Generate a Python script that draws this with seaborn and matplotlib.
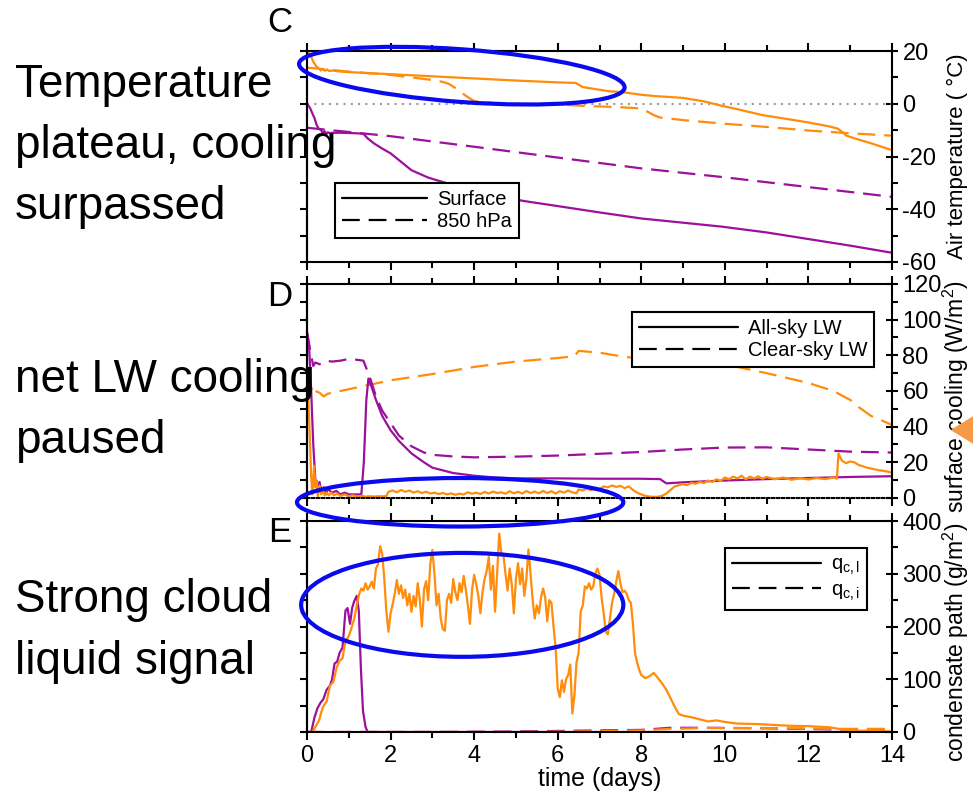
import numpy as np
import pandas as pd
import matplotlib
matplotlib.use("Agg")
import matplotlib.pyplot as plt
from matplotlib.patches import Ellipse, Polygon
from matplotlib.lines import Line2D
from matplotlib.ticker import MultipleLocator
from matplotlib.transforms import IdentityTransform
import seaborn as sns

# ---------------------------------------------------------------- data
# (day, value) samples for each run: orange = warm run, purple = cold run

# Panel C: air temperature (deg C)
T_SFC_ORANGE = np.array([
    (0, 20), (0.08, 18.5), (0.15, 16), (0.22, 14.2), (0.29, 13.3), (0.33, 12.6),
    (0.38, 13.2), (0.43, 12.5), (0.48, 13.0), (0.53, 12.4), (0.6, 12.6), (0.8, 12.2),
    (1.0, 12.0), (1.5, 11.6), (2.0, 11.2), (3.0, 10.4), (4.0, 9.6), (5.0, 8.8),
    (6.0, 8.1), (6.43, 7.9), (6.6, 6.3), (6.8, 5.8), (7.2, 4.8), (7.6, 4.3),
    (8.0, 3.4), (8.4, 2.8), (8.65, 2.6), (9.0, 2.2), (9.5, 0.9), (9.93, -0.8),
    (10.2, -1.7), (10.9, -4.3), (11.5, -5.8), (12.04, -7.2), (12.5, -8.6),
    (12.7, -9.4), (12.8, -10.6), (12.9, -12.0), (13.1, -13.1), (13.5, -15.0),
    (14.0, -17.6)])
T_850_ORANGE = np.array([
    (0, 13.7), (1, 12.2), (2, 10.9), (2.5, 10.0), (3.0, 9.0), (3.25, 8.3),
    (3.4, 7.5), (3.57, 5.8), (3.7, 4.2), (3.83, 2.7), (4.0, 1.0), (4.5, 0.2),
    (5.0, -0.1), (6.0, -0.3), (6.75, -0.9), (7.5, -1.3), (8.0, -1.8), (8.15, -3.0),
    (8.3, -4.3), (8.44, -5.2), (9.0, -6.2), (9.93, -7.5), (11.0, -8.8),
    (12.04, -10.2), (13.0, -11.2), (14.0, -12.1)])
T_SFC_PURPLE = np.array([
    (0, 0), (0.07, -1.5), (0.13, -3.7), (0.18, -5.5), (0.23, -8.0), (0.28, -9.5),
    (0.34, -10.0), (0.38, -11.3), (0.42, -10.4), (0.46, -11.5), (0.5, -10.8),
    (0.55, -11.2), (0.6, -11.0), (0.8, -11.0), (1.0, -11.1), (1.2, -11.2),
    (1.35, -11.4), (1.45, -13.1), (1.6, -15.0), (1.8, -17.0), (2.0, -18.8),
    (2.25, -22.0), (2.5, -25.2), (2.9, -28.0), (3.36, -30.2), (4.0, -33.0),
    (4.6, -35.2), (5.2, -36.9), (6.0, -38.8), (7.0, -41.2), (8.0, -43.5),
    (9.0, -45.1), (9.93, -46.6), (11.0, -48.8), (12.04, -51.4), (13.0, -53.8),
    (14.0, -56.5)])
T_850_PURPLE = np.array([
    (0, -9.1), (1, -10.7), (2, -12.3), (4, -16.3), (6, -20.4), (8, -24.5),
    (10, -27.9), (12, -31.6), (14, -35.3)])

# Panel D: surface longwave cooling (W/m2)
LW_ALL_ORANGE = np.array([
    (0, 70), (0.05, 45), (0.1, 12), (0.13, 2), (0.17, 18), (0.2, 6), (0.23, 10),
    (0.26, 1), (0.3, 7), (0.34, 2), (0.38, 5), (0.42, 1.5), (0.47, 3), (0.52, 1.5),
    (0.58, 3), (0.65, 1.5), (0.72, 2.5), (0.8, 1.2), (0.9, 2), (1.0, 1), (1.1, 1.5),
    (1.2, 0.8), (1.3, 1.2), (1.4, 0.8), (1.5, 1), (1.6, 0.8), (1.7, 1), (1.8, 0.9),
    (1.9, 1.2), (1.95, 3.5), (2.05, 4.2), (2.15, 3.2), (2.25, 4.5), (2.35, 3.5),
    (2.45, 4.2), (2.55, 3), (2.65, 3.8), (2.75, 2.8), (2.85, 3.5), (2.95, 2.5),
    (3.05, 3), (3.15, 2.2), (3.25, 2.8), (3.35, 2), (3.45, 2.6), (3.55, 1.8),
    (3.65, 2.4), (3.75, 2), (3.85, 3.2), (3.95, 2.4), (4.05, 3), (4.15, 2.2),
    (4.25, 3.4), (4.35, 2.5), (4.45, 3.6), (4.55, 2.8), (4.65, 3.2), (4.75, 2.4),
    (4.85, 3.8), (4.95, 2.6), (5.05, 3.5), (5.15, 2.5), (5.25, 3.9), (5.35, 2.8),
    (5.45, 3.6), (5.55, 2.6), (5.65, 4), (5.75, 2.8), (5.85, 3.8), (5.95, 2.5),
    (6.05, 3.8), (6.15, 3), (6.25, 4.2), (6.35, 3.2), (6.45, 2.6), (6.5, 4.8),
    (6.6, 4.2), (6.7, 5.2), (6.8, 4.4), (6.9, 5.8), (7.0, 5), (7.1, 6.5), (7.2, 6),
    (7.3, 7), (7.4, 6.2), (7.5, 6.8), (7.6, 5.5), (7.7, 6.5), (7.8, 4.5), (7.9, 3),
    (8.0, 2), (8.1, 1.2), (8.2, 0.8), (8.3, 0.6), (8.4, 0.7), (8.5, 1.2), (8.6, 2.5),
    (8.7, 4.5), (8.8, 6.5), (8.9, 7.2), (9.0, 7.8), (9.1, 7.2), (9.2, 8.5), (9.3, 8),
    (9.4, 9), (9.5, 8.4), (9.6, 9.8), (9.7, 9), (9.8, 10.5), (9.9, 9.5), (10.0, 11.5),
    (10.1, 10.5), (10.2, 12), (10.3, 11), (10.4, 12.5), (10.5, 10.5), (10.6, 12),
    (10.7, 11), (10.8, 12.2), (10.9, 10.8), (11.0, 11.8), (11.2, 10.5), (11.4, 11.5),
    (11.6, 10.2), (11.8, 11.2), (12.0, 10.4), (12.2, 11.2), (12.4, 10.6), (12.6, 11.5),
    (12.68, 10.8), (12.72, 25), (12.8, 21), (12.9, 19.5), (13.0, 20.5), (13.1, 20),
    (13.2, 18.5), (13.3, 17.8), (13.4, 17), (13.5, 16.5), (13.6, 16), (13.7, 15.5),
    (13.8, 15.2), (13.9, 14.8), (14.0, 14.2)])
LW_CLEAR_ORANGE = np.array([
    (0, 70), (0.1, 62), (0.15, 58), (0.2, 60), (0.3, 59), (0.4, 57), (0.5, 58.5),
    (0.7, 59.5), (1.0, 61), (1.5, 63.5), (2.0, 66), (3.0, 69.5), (4.0, 73.5),
    (5.0, 76.5), (6.0, 78.5), (6.4, 79.5), (6.5, 82.5), (7.0, 81.5), (7.5, 79.5),
    (8.0, 78), (9.0, 77.8), (9.5, 77), (10.0, 75), (11.0, 70), (12.0, 64.5),
    (12.6, 60), (13.0, 55), (13.2, 51), (13.5, 46), (14.0, 41)])
LW_ALL_PURPLE = np.array([
    (0, 93), (0.05, 85), (0.1, 60), (0.15, 30), (0.2, 10), (0.25, 4), (0.3, 9),
    (0.35, 3), (0.4, 6), (0.45, 2), (0.5, 5), (0.6, 3), (0.7, 4), (0.8, 2), (0.9, 3),
    (1.0, 2), (1.1, 2), (1.2, 2), (1.3, 2), (1.36, 20), (1.42, 55), (1.47, 67),
    (1.55, 62), (1.65, 55), (1.8, 46), (2.0, 38), (2.2, 32), (2.5, 25), (2.8, 20),
    (3.0, 17), (3.5, 14), (4.0, 12.5), (4.5, 11.5), (5.0, 11), (6.0, 11), (7.0, 10.8),
    (8.0, 10.8), (8.45, 10.6), (8.6, 8.2), (9.0, 8.8), (10.0, 9.8), (11.0, 10.6),
    (12.0, 11.2), (13.0, 11.8), (14.0, 12.2)])
LW_CLEAR_PURPLE = np.array([
    (0, 93), (0.1, 80), (0.15, 74), (0.2, 76), (0.3, 75), (0.45, 77), (0.6, 76.5),
    (0.8, 77), (1.0, 78), (1.2, 77.5), (1.35, 77), (1.5, 68), (1.65, 57), (1.8, 49),
    (2.0, 42), (2.2, 35), (2.5, 29), (2.8, 25.5), (3.0, 24.2), (3.5, 23.3),
    (4.0, 22.8), (5.0, 23.2), (6.0, 23.8), (7.0, 24.8), (8.0, 25.8), (9.0, 27.2),
    (10.0, 28.3), (11.0, 28.4), (12.0, 27.2), (13.0, 26.0), (14.0, 25.5)])

# Panel E: condensate path (g/m2)
QL_ORANGE = np.array([
    (0, 0), (0.13, 0), (0.2, 10), (0.29, 22), (0.35, 40), (0.4, 50), (0.47, 58),
    (0.55, 88), (0.63, 95), (0.71, 122), (0.78, 135), (0.85, 140), (0.92, 172),
    (1.0, 182), (1.06, 196), (1.13, 215), (1.19, 240), (1.25, 262), (1.3, 272),
    (1.35, 268), (1.4, 282), (1.45, 270), (1.5, 276), (1.55, 285), (1.6, 272),
    (1.65, 310), (1.7, 318), (1.75, 352), (1.8, 338), (1.85, 290), (1.9, 228),
    (1.95, 190), (2.0, 225), (2.05, 242), (2.1, 262), (2.15, 288), (2.2, 262),
    (2.25, 278), (2.3, 254), (2.35, 270), (2.4, 240), (2.45, 262), (2.5, 228),
    (2.55, 258), (2.6, 238), (2.65, 282), (2.7, 250), (2.75, 200), (2.8, 270),
    (2.85, 286), (2.9, 250), (2.95, 318), (3.0, 345), (3.05, 300), (3.1, 240),
    (3.15, 262), (3.2, 215), (3.25, 195), (3.3, 192), (3.35, 250), (3.4, 262),
    (3.45, 245), (3.5, 290), (3.55, 265), (3.6, 250), (3.65, 282), (3.7, 265),
    (3.75, 296), (3.8, 270), (3.85, 240), (3.9, 205), (3.95, 270), (4.0, 298),
    (4.05, 280), (4.1, 258), (4.15, 225), (4.2, 265), (4.25, 290), (4.3, 305),
    (4.35, 332), (4.4, 270), (4.45, 315), (4.5, 228), (4.55, 300), (4.6, 376),
    (4.65, 340), (4.7, 336), (4.75, 300), (4.8, 268), (4.85, 310), (4.9, 280),
    (4.95, 225), (5.0, 290), (5.05, 320), (5.1, 280), (5.15, 310), (5.2, 258),
    (5.25, 290), (5.3, 346), (5.35, 300), (5.4, 250), (5.45, 215), (5.5, 240),
    (5.55, 225), (5.6, 255), (5.65, 272), (5.7, 255), (5.75, 210), (5.8, 250),
    (5.85, 245), (5.9, 200), (5.95, 160), (6.0, 82), (6.05, 66), (6.1, 98),
    (6.15, 76), (6.2, 100), (6.25, 108), (6.3, 128), (6.35, 35), (6.4, 70),
    (6.45, 132), (6.5, 150), (6.55, 228), (6.6, 240), (6.65, 276), (6.7, 272),
    (6.75, 282), (6.8, 270), (6.85, 276), (6.9, 300), (6.95, 310), (7.0, 298),
    (7.05, 255), (7.1, 225), (7.15, 190), (7.2, 185), (7.25, 215), (7.3, 245),
    (7.35, 262), (7.4, 285), (7.45, 305), (7.5, 282), (7.55, 265), (7.6, 268),
    (7.65, 262), (7.7, 250), (7.75, 245), (7.8, 205), (7.85, 150), (7.9, 132),
    (7.95, 118), (8.0, 108), (8.1, 102), (8.2, 106), (8.3, 112), (8.4, 102),
    (8.5, 92), (8.6, 80), (8.7, 64), (8.8, 48), (8.9, 34), (9.0, 31), (9.2, 28),
    (9.4, 24), (9.6, 20), (9.8, 22), (10.0, 19), (10.3, 16), (10.8, 15), (11.5, 12),
    (12.0, 11), (12.5, 9), (12.8, 5), (13.0, 3), (13.5, 2), (14.0, 1)])
QI_ORANGE = np.array([
    (0, 0), (5, 0), (6, 0.5), (7, 1.5), (8, 3), (8.7, 6), (9.5, 7.5), (11, 7.5),
    (12.5, 6), (14, 6)])
QL_PURPLE = np.array([
    (0, 0), (0.1, 0), (0.18, 28), (0.25, 45), (0.32, 55), (0.39, 62), (0.47, 80),
    (0.55, 88), (0.6, 100), (0.66, 130), (0.72, 133), (0.78, 150), (0.85, 160),
    (0.92, 230), (0.97, 235), (1.03, 205), (1.08, 235), (1.13, 248), (1.19, 258),
    (1.24, 230), (1.29, 120), (1.34, 40), (1.4, 10), (1.45, 0), (14, 0)])
QI_PURPLE = np.array([
    (0, 0), (3, 0), (5, 1), (6, 2), (7, 3), (8, 4), (8.7, 8), (9.5, 8), (11, 7),
    (12.5, 5), (14, 4)])

DAY_TICKS = [0, 2, 4, 6, 8, 10, 12, 14]

# --------------------------------------------------------------- style
ORANGE = "#FF8C0A"
PURPLE = "#9C109C"
RING = "#0A0AEE"
DASH = (0, (8, 4))
LW = 1.6
TICK_FS = 17

sns.set_theme(style="ticks")
plt.rcParams["font.family"] = ["Liberation Sans", "DejaVu Sans"]
plt.rcParams["mathtext.fontset"] = "custom"
plt.rcParams["mathtext.rm"] = "Liberation Sans"
plt.rcParams["mathtext.it"] = "Liberation Sans"
plt.rcParams["axes.unicode_minus"] = False
plt.rcParams["axes.linewidth"] = 1.5
plt.rcParams["axes.edgecolor"] = "black"
plt.rcParams["text.color"] = "black"
plt.rcParams["axes.labelcolor"] = "black"
plt.rcParams["xtick.color"] = "black"
plt.rcParams["ytick.color"] = "black"

W, H = 973, 793
fig = plt.figure(figsize=(W / 100, H / 100), dpi=100)


def px_rect(x0, y0, x1, y1):
    return [x0 / W, 1 - y1 / H, (x1 - x0) / W, (y1 - y0) / H]


axC = fig.add_axes(px_rect(307, 51, 892, 262))
axD = fig.add_axes(px_rect(307, 284, 892, 498))
axE = fig.add_axes(px_rect(307, 521, 892, 732))


def trace(ax, arr, color, dashed=False, z=2):
    d = pd.DataFrame(arr, columns=["day", "value"])
    sns.lineplot(data=d, x="day", y="value", ax=ax, color=color, lw=LW,
                 linestyle=DASH if dashed else "-", estimator=None, sort=False,
                 legend=False, zorder=z)


def frame(ax, ylim, major, minor, show_x=False):
    ax.set_xlim(0, 14)
    ax.set_ylim(*ylim)
    ax.set_xlabel("")
    ax.set_ylabel("")
    ax.xaxis.set_major_locator(MultipleLocator(2))
    ax.xaxis.set_minor_locator(MultipleLocator(1))
    ax.yaxis.set_major_locator(MultipleLocator(major))
    ax.yaxis.set_minor_locator(MultipleLocator(minor))
    ax.yaxis.tick_right()
    ax.tick_params(axis="x", which="both", direction="out", top=True, bottom=True,
                   labelbottom=show_x, width=1.5, labelsize=TICK_FS)
    ax.tick_params(axis="x", which="major", length=6)
    ax.tick_params(axis="x", which="minor", length=4)
    ax.tick_params(axis="y", which="major", direction="inout", length=9, width=1.5,
                   labelsize=TICK_FS, pad=3)
    ax.tick_params(axis="y", which="minor", direction="out", length=4, width=1.5)
    if show_x:
        ax.set_xticks(DAY_TICKS)
    for s in ax.spines.values():
        s.set_visible(True)
        s.set_linewidth(1.5)
        s.set_color("black")
    left = ax.secondary_yaxis("left")
    left.yaxis.set_major_locator(MultipleLocator(major))
    left.yaxis.set_minor_locator(MultipleLocator(minor))
    left.tick_params(axis="y", which="both", direction="out", labelleft=False,
                     width=1.5, length=5)
    left.spines["left"].set_linewidth(1.5)


def legend(ax, labels, anchor, hl):
    handles = [Line2D([], [], color="black", lw=LW),
               Line2D([], [], color="black", lw=LW, linestyle=DASH)]
    leg = ax.legend(handles, labels, loc="upper left", bbox_to_anchor=anchor,
                    bbox_transform=fig.transFigure, frameon=True, fancybox=False,
                    framealpha=1, edgecolor="black", fontsize=14.5, handlelength=hl,
                    borderpad=0.35, labelspacing=0.15, handletextpad=0.5,
                    borderaxespad=0)
    leg.get_frame().set_linewidth(1.5)
    leg.set_zorder(20)


# ---- panel C: air temperature
axC.axhline(0, color="#999999", lw=1.5, linestyle=(0, (1, 2.5)), zorder=1)
trace(axC, T_850_ORANGE, ORANGE, dashed=True)
trace(axC, T_SFC_ORANGE, ORANGE)
trace(axC, T_850_PURPLE, PURPLE, dashed=True)
trace(axC, T_SFC_PURPLE, PURPLE)
frame(axC, (-60, 20), 20, 10)
legend(axC, ["Surface", "850 hPa"], (335 / W, 1 - 183 / H), 4.2)

# ---- panel D: surface longwave cooling
trace(axD, LW_CLEAR_ORANGE, ORANGE, dashed=True)
trace(axD, LW_CLEAR_PURPLE, PURPLE, dashed=True)
trace(axD, LW_ALL_PURPLE, PURPLE)
trace(axD, LW_ALL_ORANGE, ORANGE)
frame(axD, (0, 120), 20, 10)
axD.spines["bottom"].set_linestyle((0, (1.2, 1.2)))
legend(axD, ["All-sky LW", "Clear-sky LW"], (632 / W, 1 - 312 / H), 4.9)

# ---- panel E: condensate path
trace(axE, QI_PURPLE, PURPLE, dashed=True)
trace(axE, QL_PURPLE, PURPLE)
trace(axE, QL_ORANGE, ORANGE)
trace(axE, QI_ORANGE, ORANGE, dashed=True)
frame(axE, (0, 400), 100, 50, show_x=True)
axE.set_xlabel("time (days)", fontsize=18, labelpad=0)
legend(axE, [r"q$_{\mathregular{c,l}}$", r"q$_{\mathregular{c,i}}$"],
       (725 / W, 1 - 548 / H), 4.4)

# ---- right-hand axis titles
fig.text(957 / W, 1 - 156 / H, "Air temperature ( °C)", rotation=90,
         ha="center", va="center", fontsize=16)
fig.text(956 / W, 1 - 397 / H, r"surface cooling (W/m$^{\mathregular{2}}$)",
         rotation=90, ha="center", va="center", fontsize=16.5)
fig.text(956 / W, 1 - 642 / H, r"condensate path (g/m$^{\mathregular{2}}$)",
         rotation=90, ha="center", va="center", fontsize=16.5)

# small pointer on the cooling axis title
fig.add_artist(Polygon([(952 / W, 1 - 430 / H), (973 / W, 1 - 417 / H),
                        (973 / W, 1 - 443 / H)], closed=True,
                       transform=fig.transFigure, color="#F79A48", zorder=30))

# ---- panel letters
for letter, ypix in (("C", 22), ("D", 297), ("E", 532)):
    fig.text(280 / W, 1 - ypix / H, letter, ha="center", va="center", fontsize=25)

# ---- side notes
notes = [("Temperature\nplateau, cooling\nsurpassed", 146),
         ("net LW cooling\npaused", 411),
         ("Strong cloud\nliquid signal", 631)]
for txt, ypix in notes:
    fig.text(15 / W, 1 - ypix / H, txt, ha="left", va="center", fontsize=33,
             linespacing=1.5, zorder=40)


# ---- highlight rings (end points in data units, half height in data units)
def ring(ax, x0, y0, x1, y1, half_h):
    p0 = ax.transData.transform((x0, y0))
    p1 = ax.transData.transform((x1, y1))
    mid = (p0 + p1) / 2
    top = ax.transData.transform(((x0 + x1) / 2, (y0 + y1) / 2 + half_h))
    a = np.hypot(*(p1 - p0)) / 2
    ang = np.degrees(np.arctan2(p1[1] - p0[1], p1[0] - p0[0]))
    b = (top[1] - mid[1]) * np.cos(np.radians(ang))
    fig.add_artist(Ellipse(tuple(mid), 2 * a, 2 * b, angle=ang,
                           transform=IdentityTransform(), fill=False,
                           edgecolor=RING, lw=3, zorder=35))


ring(axC, -0.19, 15.2, 7.6, 6.1, 10.0)
ring(axD, -0.24, -2.4, 7.57, -2.4, 13.6)
ring(axE, -0.14, 241, 7.57, 241, 98.5)

fig.savefig("out.png", dpi=100)
